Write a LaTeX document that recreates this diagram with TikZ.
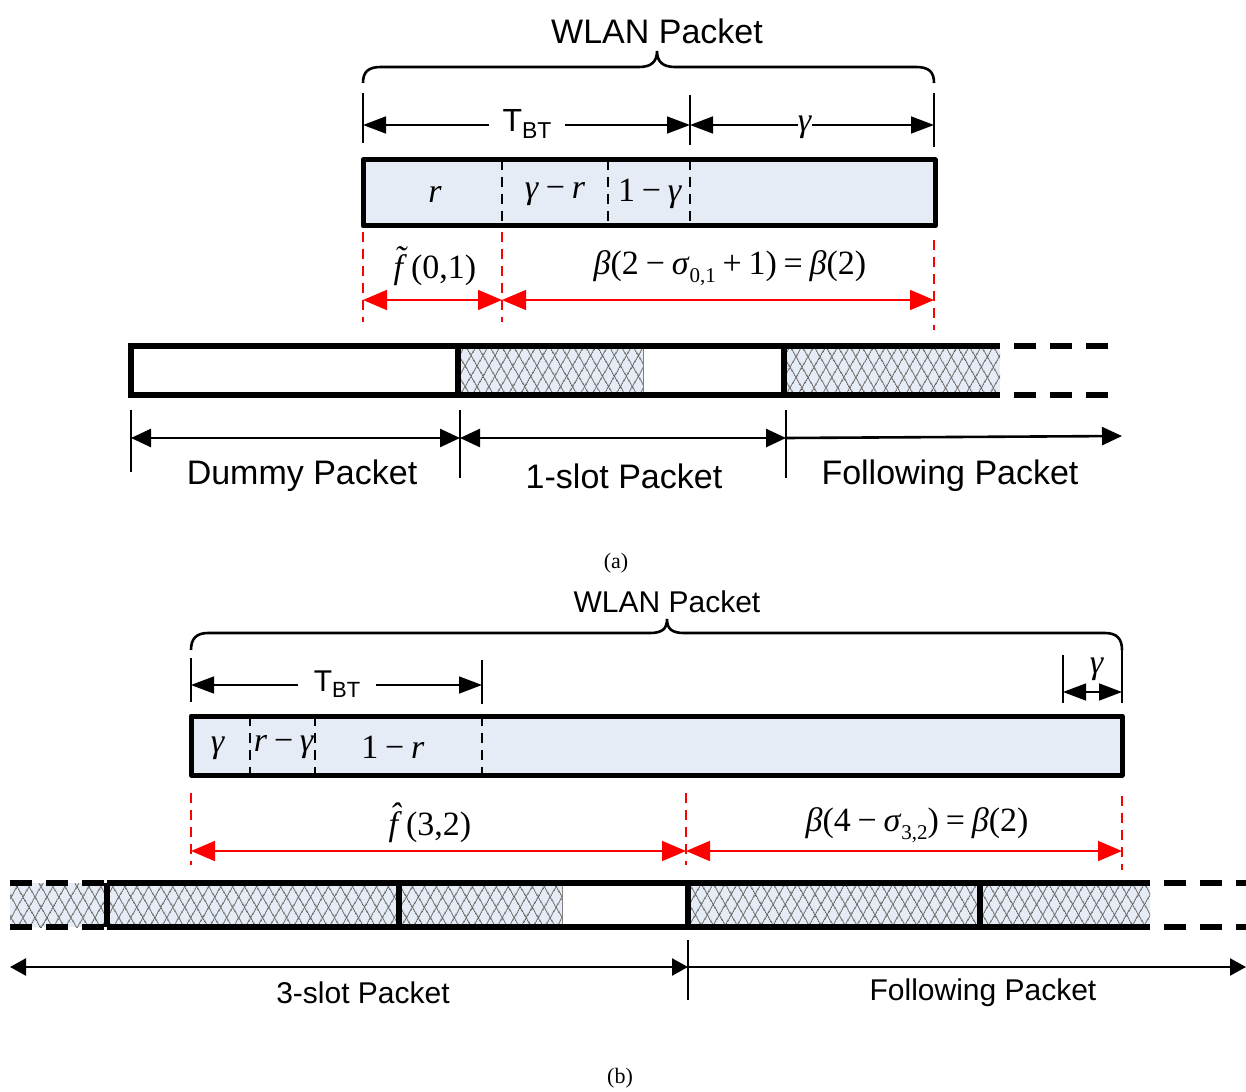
\documentclass[tikz,border=0pt]{standalone}
\usepackage{fontspec}
\setmainfont{Liberation Sans}
\newfontfamily\tnr{Liberation Serif}
\usetikzlibrary{arrows.meta,patterns.meta}
\definecolor{boxblue}{RGB}{230,236,246}
\definecolor{hatchgray}{RGB}{95,95,95}
\newcommand{\mi}[1]{\textit{#1}}
\newcommand{\mop}[1]{\hspace{0.2em}#1\hspace{0.2em}}
\newcommand{\sbs}[1]{\raisebox{-0.55ex}{\fontsize{10.5}{11}\selectfont #1}}
\newcommand{\accf}[1]{\makebox[0pt][l]{\hspace{0.02em}\raisebox{0.26em}{\textit{#1}}}\mi{f}\hspace{0.12em}}
\begin{document}
\begin{tikzpicture}[x=0.5pt,y=-0.5pt,
  tickline/.style={line width=0.7pt},
  bracepath/.style={line width=1.3pt},
  dimarrow/.style={line width=0.75pt,{Triangle[length=11.5pt,width=8.5pt]}-{Triangle[length=11.5pt,width=8.5pt]}},
  redarrow/.style={red,line width=0.9pt,{Triangle[length=12pt,width=10pt]}-{Triangle[length=12pt,width=10pt]}},
  pktarrowA/.style={line width=1.3pt,{Triangle[length=10pt,width=9pt]}-{Triangle[length=10pt,width=9pt]}},
  pktarrowAr/.style={line width=1.3pt,-{Triangle[length=10pt,width=9pt]}},
  pktarrowB/.style={line width=1.2pt,{Triangle[length=8pt,width=8.5pt]}-{Triangle[length=8pt,width=8.5pt]}},
  pktarrowBr/.style={line width=1.2pt,-{Triangle[length=8pt,width=8.5pt]}},
  reddash/.style={red,line width=0.7pt,dash pattern=on 5pt off 3.5pt},
  divider/.style={line width=0.6pt,dash pattern=on 5pt off 3.5pt},
  pktbox/.style={line width=2.5pt,fill=boxblue,line join=round},
  barline/.style={line width=2.7pt,line join=miter},
  bardashgap/.style={line width=2.7pt,dash pattern=on 11pt off 7pt,dash phase=11pt},
  bardashon/.style={line width=2.7pt,dash pattern=on 11pt off 7pt},
  hatchbox/.style={fill=boxblue,
    postaction={pattern={Lines[angle=60,distance=5.4pt,line width=0.6pt]},pattern color=hatchgray},
    postaction={pattern={Lines[angle=-60,distance=5.4pt,line width=0.6pt]},pattern color=hatchgray}},
  bigsans/.style={font=\fontsize{17}{20}\selectfont,inner sep=0pt},
  midsans/.style={font=\fontsize{15}{18}\selectfont,inner sep=0pt},
  mathlbl/.style={font=\tnr\fontsize{17}{20}\selectfont,inner sep=0pt},
  caption/.style={font=\tnr\fontsize{11}{13}\selectfont,inner sep=0pt},
  gaplbl/.style={fill=white,inner ysep=1pt}
]
\useasboundingbox (0,0) rectangle (1246,1091);

%%%%%%%%%%%%%%%%%%%% (a) %%%%%%%%%%%%%%%%%%%%
\node[bigsans] (wlanA) at (657,31) {WLAN Packet};
\coordinate (braceAL) at (363,83);
\coordinate (braceAR) at (934,83);
\coordinate (braceAT) at (657,51);
\draw[bracepath] (braceAL) .. controls (363,72) and (368,67) .. (381,67) -- (639,67)
  .. controls (651,67) and (657,62) .. (braceAT)
  .. controls (657,62) and (663,67) .. (675,67) -- (916,67)
  .. controls (929,67) and (934,72) .. (braceAR);

% T_BT and gamma dimension
\coordinate (tA0) at (363,125);
\coordinate (tA1) at (690,125);
\coordinate (tA2) at (934,125);
\draw[tickline] (363,93) -- (363,143);
\draw[tickline] (690,95) -- (690,145);
\draw[tickline] (934,93) -- (934,147);
\draw[dimarrow] (tA0) -- (tA1);
\draw[dimarrow] (tA1) -- (tA2);
\node[gaplbl,inner xsep=7pt,font=\fontsize{16}{18}\selectfont] (tbtA) at (527,124) {T\raisebox{-0.4ex}{\fontsize{11.5}{12}\selectfont BT}};
\node[gaplbl,inner xsep=4pt,mathlbl] (gamA) at (805,127) {\mi{γ}};

% WLAN packet box (a)
\draw[pktbox] (363,160) rectangle (935,226);
\coordinate (dA1t) at (502,160); \coordinate (dA1b) at (502,226);
\coordinate (dA2t) at (608,160); \coordinate (dA2b) at (608,226);
\coordinate (dA3t) at (690,160); \coordinate (dA3b) at (690,226);
\draw[divider] (dA1t) -- (dA1b);
\draw[divider] (dA2t) -- (dA2b);
\draw[divider] (dA3t) -- (dA3b);
\node[mathlbl] (rA) at (435,194) {\mi{r}};
\node[mathlbl] (grA) at (555,194) {\mi{γ}\mop{−}\mi{r}};
\node[mathlbl] (ogA) at (650,194) {1\mop{−}\mi{γ}};

% red dimensions (a)
\coordinate (rA0) at (363,300);
\coordinate (rA1) at (502,300);
\coordinate (rA2) at (934,300);
\draw[reddash] (363,232) -- (363,322);
\draw[reddash] (502,232) -- (502,322);
\draw[reddash] (934,240) -- (934,330);
\draw[redarrow] (rA0) -- (rA1);
\draw[redarrow] (rA1) -- (rA2);
\node[mathlbl] (fA) at (435,266) {\accf{˜}(0,1)};
\node[mathlbl] (betaA) at (730,268) {\mi{β}(2\mop{−}\mi{σ}\sbs{0,1}\mop{+}1)\mop{=}\mi{β}(2)};

% packet bar (a)
\fill[hatchbox] (458,346) rectangle (643,395);
\fill[hatchbox] (784,346) rectangle (1000,395);
\draw[line width=0.5pt,gray] (643,346) -- (643,395);
\draw[barline] (1000,346) -- (131,346) -- (131,395) -- (1000,395);
\draw[barline] (458,346) -- (458,395);
\draw[barline] (784,346) -- (784,395);
\draw[bardashgap] (1000,346) -- (1112,346);
\draw[bardashgap] (1000,395) -- (1112,395);

% packet dimensions (a)
\coordinate (pA0) at (131,438);
\coordinate (pA1) at (460,438);
\coordinate (pA2) at (786,438);
\coordinate (pA3) at (1122,436);
\draw[tickline] (131,410) -- (131,472);
\draw[tickline] (460,410) -- (460,478);
\draw[tickline] (786,410) -- (786,478);
\draw[pktarrowA] (pA0) -- (pA1);
\draw[pktarrowA] (pA1) -- (pA2);
\draw[pktarrowAr] (pA2) -- (pA3);
\node[bigsans] (dummyA) at (302,476) {Dummy Packet};
\node[bigsans] (oneA) at (624,476) {1-slot Packet};
\node[bigsans] (follA) at (950,476) {Following Packet};

\node[caption] (capA) at (616,563) {(a)};

%%%%%%%%%%%%%%%%%%%% (b) %%%%%%%%%%%%%%%%%%%%
\node[midsans] (wlanB) at (667,602) {WLAN Packet};
\coordinate (braceBL) at (191,650);
\coordinate (braceBR) at (1122,650);
\coordinate (braceBT) at (667,619);
\draw[bracepath] (braceBL) .. controls (191,639) and (196,633) .. (208,633) -- (650,633)
  .. controls (662,633) and (667,629) .. (braceBT)
  .. controls (667,629) and (672,633) .. (684,633) -- (1105,633)
  .. controls (1117,633) and (1122,639) .. (braceBR);

\coordinate (tB0) at (191,685);
\coordinate (tB1) at (482,685);
\coordinate (tB2) at (1063,692);
\coordinate (tB3) at (1122,692);
\draw[tickline] (191,658) -- (191,702);
\draw[tickline] (482,660) -- (482,704);
\draw[tickline] (1063,655) -- (1063,703);
\draw[tickline] (1122,650) -- (1122,703);
\draw[dimarrow] (tB0) -- (tB1);
\node[gaplbl,inner xsep=8pt,font=\fontsize{15}{18}\selectfont] (tbtB) at (337,684) {T\raisebox{-0.4ex}{\fontsize{11}{12}\selectfont BT}};
\draw[dimarrow] (tB2) -- (tB3);
\node[mathlbl] (gamB) at (1097,669) {\mi{γ}};

% WLAN packet box (b)
\draw[pktbox] (191,716) rectangle (1122,775);
\coordinate (dB1t) at (250,716); \coordinate (dB1b) at (250,775);
\coordinate (dB2t) at (315,716); \coordinate (dB2b) at (315,775);
\coordinate (dB3t) at (482,716); \coordinate (dB3b) at (482,775);
\draw[divider] (dB1t) -- (dB1b);
\draw[divider] (dB2t) -- (dB2b);
\draw[divider] (dB3t) -- (dB3b);
\node[mathlbl] (gB) at (218,748) {\mi{γ}};
\node[mathlbl] (rgB) at (284,747) {\mi{r}\mop{−}\mi{γ}};
\node[mathlbl] (orB) at (393,747) {1\mop{−}\mi{r}};

% red dimensions (b)
\coordinate (rB0) at (191,851);
\coordinate (rB1) at (686,851);
\coordinate (rB2) at (1122,851);
\draw[reddash] (191,793) -- (191,865);
\draw[reddash] (686,793) -- (686,865);
\draw[reddash] (1122,796) -- (1122,870);
\draw[redarrow] (rB0) -- (rB1);
\draw[redarrow] (rB1) -- (rB2);
\node[mathlbl] (fB) at (430,823) {\accf{ˆ}(3,2)};
\node[mathlbl] (betaB) at (917,825) {\mi{β}(4\mop{−}\mi{σ}\sbs{3,2})\mop{=}\mi{β}(2)};

% packet bar (b)
\fill[hatchbox] (10,883) rectangle (562,927);
\fill[hatchbox] (688,883) rectangle (1150,927);
\draw[line width=0.5pt,gray] (562,883) -- (562,927);
\draw[barline] (107,883) -- (1150,883);
\draw[barline] (107,927) -- (1150,927);
\draw[barline] (107,883) -- (107,927);
\draw[barline] (399,883) -- (399,927);
\draw[barline] (688,883) -- (688,927);
\draw[barline] (980,883) -- (980,927);
\draw[bardashon] (10,883) -- (107,883);
\draw[bardashon] (10,927) -- (107,927);
\draw[bardashgap] (1150,883) -- (1246,883);
\draw[bardashgap] (1150,927) -- (1246,927);

% packet dimensions (b)
\coordinate (pB0) at (10,967);
\coordinate (pB1) at (688,967);
\coordinate (pB2) at (1246,967);
\draw[tickline] (688,940) -- (688,1000);
\draw[pktarrowB] (pB0) -- (pB1);
\draw[pktarrowBr] (pB1) -- (pB2);
\node[midsans] (threeB) at (363,993) {3-slot Packet};
\node[midsans] (follB) at (983,993) {Following Packet};

\node[caption] (capB) at (620,1078) {(b)};
\end{tikzpicture}
\end{document}
